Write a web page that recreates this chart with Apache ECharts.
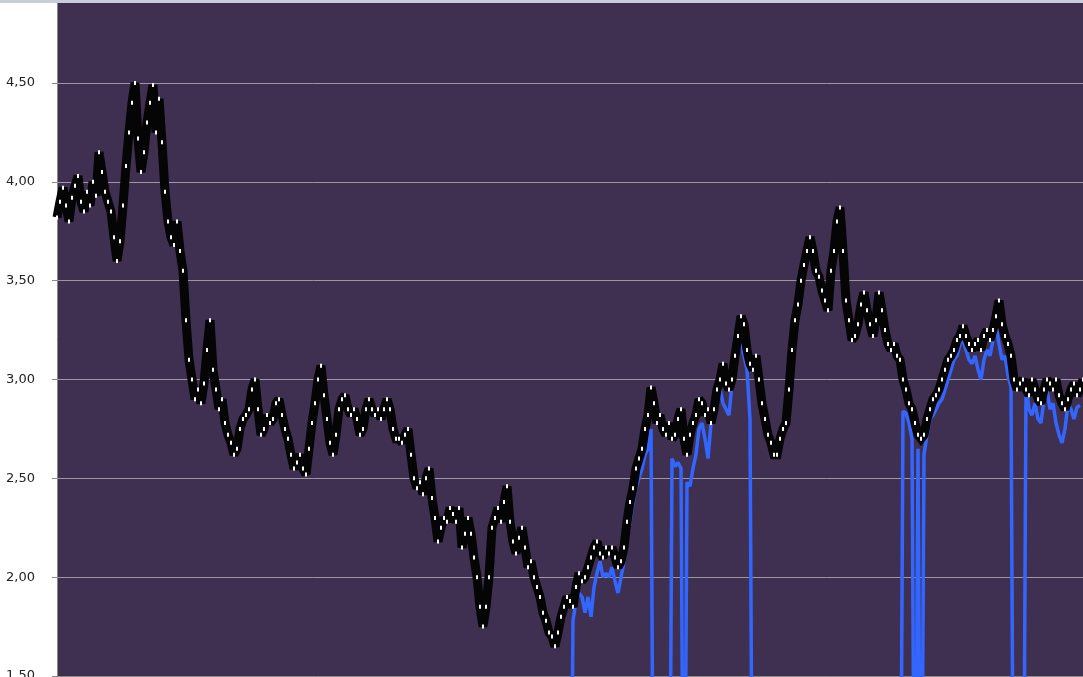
<!DOCTYPE html>
<html>
<head>
<meta charset="utf-8">
<script src="https://cdn.jsdelivr.net/npm/echarts@6/dist/echarts.min.js"></script>
<style>
html,body{margin:0;padding:0;background:#fff;}
#c{width:1083px;height:677px;}
</style>
</head>
<body>
<div id="c"></div>
<script>
// y-axis tick values (labels shown with comma decimals)
const yTicks = [1.5, 2.0, 2.5, 3.0, 3.5, 4.0, 4.5];

const blackValues = [
3.82,3.90,3.97,3.88,3.80,3.92,3.98,4.03,3.90,3.85,3.95,3.88,4.00,3.93,4.15,4.05,3.95,3.90,3.85,3.72,
3.60,3.70,3.88,4.08,4.25,4.40,4.50,4.22,4.05,4.15,4.30,4.40,4.49,4.25,4.42,4.20,3.95,3.80,3.72,3.68,
3.80,3.65,3.55,3.30,3.10,3.00,2.90,2.95,2.88,2.98,3.15,3.30,3.05,2.95,2.85,2.90,2.78,2.72,2.68,2.62,
2.65,2.75,2.80,2.82,2.85,2.95,3.00,2.85,2.72,2.75,2.82,2.78,2.80,2.88,2.90,2.82,2.75,2.70,2.62,2.55,
2.58,2.62,2.55,2.52,2.65,2.78,2.88,3.00,3.07,2.92,2.80,2.68,2.62,2.72,2.85,2.90,2.92,2.85,2.82,2.85,
2.80,2.72,2.75,2.85,2.90,2.85,2.82,2.85,2.80,2.85,2.90,2.85,2.75,2.70,2.70,2.68,2.72,2.75,2.62,2.50,
2.45,2.48,2.42,2.50,2.55,2.40,2.30,2.18,2.25,2.30,2.28,2.35,2.32,2.28,2.35,2.15,2.22,2.30,2.22,2.10,
2.00,1.85,1.75,1.85,2.00,2.25,2.30,2.35,2.28,2.38,2.46,2.28,2.18,2.12,2.20,2.25,2.15,2.05,2.08,2.00,
1.95,1.90,1.82,1.78,1.72,1.70,1.65,1.72,1.80,1.85,1.90,1.88,1.85,1.95,2.02,1.98,2.00,2.05,2.10,2.15,
2.18,2.12,2.10,2.15,2.12,2.15,2.10,2.05,2.08,2.15,2.28,2.38,2.45,2.55,2.60,2.65,2.75,2.82,2.96,2.88,
2.78,2.82,2.75,2.72,2.78,2.70,2.72,2.80,2.85,2.70,2.62,2.72,2.78,2.82,2.90,2.88,2.82,2.85,2.78,2.85,
2.95,3.00,3.08,2.98,2.95,3.00,3.12,3.22,3.32,3.28,3.15,3.08,3.05,3.12,3.00,2.88,2.80,2.72,2.68,2.62,
2.62,2.70,2.75,2.78,2.95,3.15,3.30,3.38,3.50,3.58,3.65,3.72,3.65,3.55,3.52,3.45,3.40,3.35,3.55,3.65,
3.80,3.87,3.65,3.40,3.30,3.20,3.22,3.28,3.38,3.44,3.35,3.28,3.22,3.30,3.44,3.35,3.25,3.18,3.15,3.18,
3.12,3.10,3.00,2.95,2.88,2.85,2.78,2.72,2.70,2.72,2.80,2.85,2.90,2.92,2.95,3.00,3.05,3.10,3.12,3.15,
3.20,3.22,3.27,3.22,3.18,3.15,3.18,3.20,3.15,3.22,3.25,3.20,3.25,3.32,3.40,3.28,3.22,3.18,3.12,3.00,
2.95,2.98,3.00,2.95,2.92,3.00,2.95,2.90,2.88,2.95,3.00,2.98,2.95,3.00,2.92,2.88,2.85,2.90,2.95,2.98,
2.92,2.95,3.00
];

// blue series on the same observation grid (0 = value drops to zero, off the chart)
const blueValues = [
// indices 0..171 are zero
...new Array(172).fill(0),
1.78,1.88,1.92,1.90,1.82,1.90,1.80,1.95,2.02,2.08,2.00,2.02,2.00,2.05,1.98,1.92,2.00,2.08,2.18,2.28,
2.37,2.45,2.50,2.55,2.62,2.65,2.75,
0,0,0,0,0,0,
2.60,2.56,2.58,2.55,0,
2.48,2.46,2.55,2.62,2.75,2.78,2.70,2.60,2.78,2.85,2.92,2.95,2.88,2.85,2.82,2.98,3.12,3.22,3.18,3.12,
3.05,2.80,
0,0,0,0,0,0,0,0,0,0,0,0,0,0,0,0,0,0,0,0,0,0,0,0,0,0,0,0,0,0,0,0,0,0,0,0,0,0,0,0,0,0,0,0,0,0,0,0,0,0,
2.84,2.83,2.78,2.70,0,2.65,0,2.62,2.72,2.80,2.82,2.85,2.88,2.90,2.95,3.00,3.05,3.10,3.12,3.18,3.20,3.15,
3.10,3.08,3.12,3.05,3.00,3.10,3.15,3.12,3.20,3.28,3.18,3.10,3.12,3.02,2.96,
0,0,0,0,
2.97,2.85,2.82,2.88,2.80,2.78,2.90,2.95,2.85,2.88,2.78,2.72,2.68,2.75,2.88,2.85,2.80,2.86,2.87
];

const blackData = blackValues.map((v, i) => [i, v]);
const blueData = blueValues.slice(0, blackValues.length).map((v, i) => [i, v]);

const chart = echarts.init(document.getElementById('c'), null, {renderer: 'canvas'});
chart.setOption({
  animation: false,
  backgroundColor: '#ffffff',
  graphic: [{
    type: 'rect', left: 0, top: 0, z: 100,
    shape: {width: 1083, height: 3},
    style: {fill: '#c9cdd9'}
  }],
  grid: {
    left: 57, right: 0, top: 3, bottom: 1,
    outerBoundsMode: 'none', containLabel: false,
    show: true, backgroundColor: '#3f3051', borderWidth: 0
  },
  xAxis: {
    type: 'value', min: 0, max: blackValues.length - 1,
    axisLine: {show: true, lineStyle: {color: '#8a8a8a', width: 1}},
    axisTick: {show: false}, axisLabel: {show: false}, splitLine: {show: false}
  },
  yAxis: {
    type: 'value', min: 1.5, max: 4.905, interval: 0.5,
    axisLine: {show: true, lineStyle: {color: '#8a8a8a', width: 1}},
    axisTick: {show: true, length: 5, lineStyle: {color: '#8a8a8a'}},
    axisLabel: {
      margin: 22, color: '#222', fontFamily: 'DejaVu Sans', fontSize: 13,
      showMaxLabel: false,
      formatter: v => yTicks.some(t => Math.abs(t - v) < 1e-6) ? v.toFixed(2).replace('.', ',') : ''
    },
    splitLine: {show: true, showMaxLine: false, lineStyle: {color: '#9c98a3', width: 1}}
  },
  series: [
    {
      type: 'line', name: 'blue', data: blueData, showSymbol: false,
      lineStyle: {color: '#3366ff', width: 3.5}, z: 2
    },
    {
      type: 'line', name: 'black', data: blackData, showSymbol: true,
      symbol: 'rect', symbolSize: [2, 4],
      itemStyle: {color: '#ffffff', borderWidth: 0},
      lineStyle: {color: '#050505', width: 9, join: 'miter', miterLimit: 2}, z: 3
    }
  ]
});
</script>
</body>
</html>
